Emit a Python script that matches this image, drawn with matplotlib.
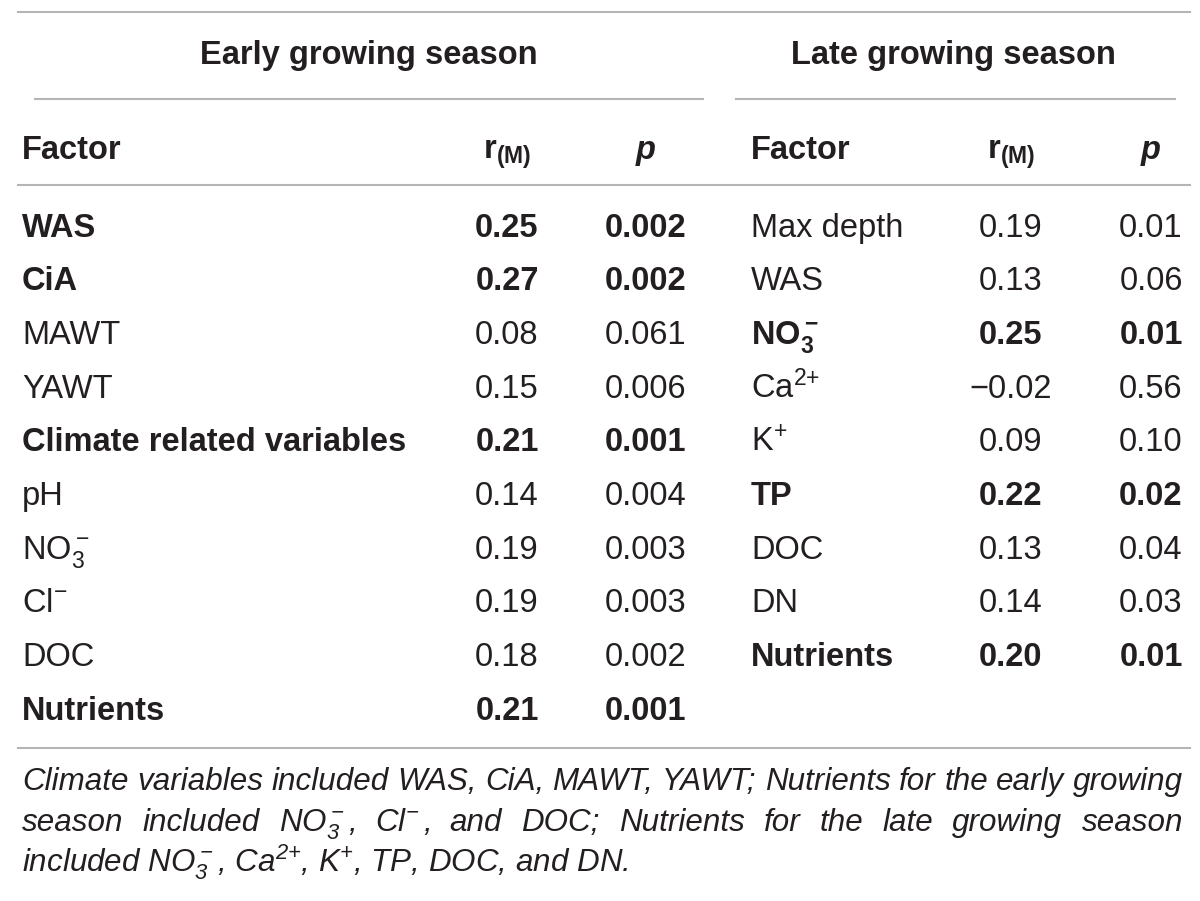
import matplotlib
matplotlib.use('Agg')
import matplotlib.pyplot as plt

plt.rcParams['font.family'] = ['Liberation Sans', 'DejaVu Sans']
plt.rcParams['mathtext.default'] = 'regular'

# table data, early growing season
early_factors = ['WAS', 'CiA', 'MAWT', 'YAWT', 'Climate related variables',
                 'pH', 'NO$_3^-$', 'Cl$^{\\!-}$', 'DOC', 'Nutrients']
early_r = ['0.25', '0.27', '0.08', '0.15', '0.21', '0.14', '0.19', '0.19', '0.18', '0.21']
early_p = ['0.002', '0.002', '0.061', '0.006', '0.001', '0.004', '0.003', '0.003', '0.002', '0.001']
early_bold = [True, True, False, False, True, False, False, False, False, True]

# late growing season
late_factors = ['Max depth', 'WAS', 'NO$_3^-$', 'Ca$^{2{+}}$', 'K$^{{+}}$', 'TP', 'DOC', 'DN', 'Nutrients']
late_r = ['0.19', '0.13', '0.25', '\u22120.02', '0.09', '0.22', '0.13', '0.14', '0.20']
late_p = ['0.01', '0.06', '0.01', '0.56', '0.10', '0.02', '0.04', '0.03', '0.01']
late_bold = [False, False, True, False, False, True, False, False, True]

caption = [
    'Climate variables included WAS, CiA, MAWT, YAWT; Nutrients for the early growing',
    'season included NO$_3^-$, Cl$^{\\!-}$, and DOC; Nutrients for the late growing season',
    'included NO$_3^-$, Ca$^{2{+}}$, K$^{{+}}$, TP, DOC, and DN.',
]

TXT = '#231f20'
LINE = '#b5b5b5'
FS = 23.5

fig = plt.figure(figsize=(12, 9.01), dpi=100)
ax = fig.add_axes([0, 0, 1, 1])
ax.set_xlim(0, 1200)
ax.set_ylim(901, 0)
ax.axis('off')

# rules
ax.plot([18, 1190], [12, 12], color=LINE, lw=1.5)
ax.plot([35, 703], [99, 99], color=LINE, lw=1.5)
ax.plot([736, 1175], [99, 99], color=LINE, lw=1.5)
ax.plot([18, 1190], [185, 185], color=LINE, lw=1.5)
ax.plot([18, 1190], [748, 748], color=LINE, lw=1.5)

# header
base = 11.7
ax.text(369, 52 + base, 'Early growing season', fontsize=FS, fontweight='bold',
        color=TXT, ha='center', va='baseline')
ax.text(953, 52 + base, 'Late growing season', fontsize=FS, fontweight='bold',
        color=TXT, ha='center', va='baseline')

cols = [(22, 507, 646), (751, 1011, 1151)]
for xf, xr, xp in cols:
    ax.text(xf, 147 + base, 'Factor', fontsize=FS, fontweight='bold', color=TXT,
            ha='left', va='baseline')
    ax.text(xr, 147 + base, 'r$_{(M)}$', fontsize=FS, fontweight='bold', color=TXT,
            ha='center', va='baseline')
    ax.text(xp, 147 + base, 'p', fontsize=FS, fontweight='bold', style='italic',
            color=TXT, ha='center', va='baseline')

y0, dy = 225, 53.67
for (xf, xr, xp), factors, rs, ps, bolds in [
        (cols[0], early_factors, early_r, early_p, early_bold),
        (cols[1], late_factors, late_r, late_p, late_bold)]:
    for i, (f, r, p, b) in enumerate(zip(factors, rs, ps, bolds)):
        y = y0 + i * dy + base
        w = 'bold' if b else 'normal'
        ax.text(xf, y, f, fontsize=FS, fontweight=w, color=TXT, ha='left', va='baseline')
        ax.text(xr, y, r, fontsize=FS, fontweight=w, color=TXT, ha='center', va='baseline')
        ax.text(xp, y, p, fontsize=FS, fontweight=w, color=TXT, ha='center', va='baseline')

# caption, justified like the source
renderer = fig.canvas.get_renderer()
CFS = 22.6
left, right = 22, 1183


def justify(line, y):
    words = line.split(' ')
    objs = [ax.text(0, y, wd, fontsize=CFS, style='italic', color=TXT,
                    ha='left', va='baseline') for wd in words]
    widths = [o.get_window_extent(renderer).width for o in objs]
    gap = (right - left - sum(widths)) / (len(words) - 1)
    x = left
    for o, wdt in zip(objs, widths):
        o.set_x(x)
        x += wdt + gap


cap_y = [782, 823, 864]
justify(caption[0], cap_y[0] + 8)
justify(caption[1], cap_y[1] + 8)
ax.text(left, cap_y[2] + 8, caption[2], fontsize=CFS, style='italic', color=TXT,
        ha='left', va='baseline')

fig.savefig('out.png', dpi=100)
